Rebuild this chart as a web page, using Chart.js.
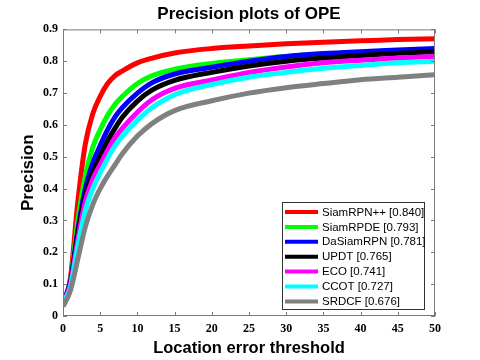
<!DOCTYPE html>
<html>
<head>
<meta charset="utf-8">
<script src="https://cdn.jsdelivr.net/npm/chart.js@4.4.1/dist/chart.umd.min.js"></script>
<style>
  html, body { margin: 0; padding: 0; background: #fff; }
</style>
</head>
<body>
<canvas id="precisionChart" width="480" height="360"></canvas>
<script>
// location error thresholds (px) where the curves were read
const thresholds = [0, 1, 2, 3, 4, 5, 6, 7, 8, 10, 12, 15, 20, 25, 30, 35, 40, 45, 50];

const trackers = ['SiamRPN++', 'SiamRPDE', 'DaSiamRPN', 'UPDT', 'ECO', 'CCOT', 'SRDCF'];
const scores = ['0.840', '0.793', '0.781', '0.765', '0.741', '0.727', '0.676'];

const siamRpnPP = [0.04, 0.12, 0.36, 0.54, 0.635, 0.69, 0.73, 0.755, 0.77, 0.795, 0.81, 0.826, 0.840, 0.848, 0.855, 0.860, 0.864, 0.868, 0.871];
const siamRpde  = [0.03, 0.11, 0.30, 0.44, 0.53, 0.585, 0.63, 0.665, 0.69, 0.73, 0.755, 0.775, 0.793, 0.805, 0.815, 0.822, 0.828, 0.832, 0.836];
const daSiamRpn = [0.04, 0.11, 0.27, 0.40, 0.48, 0.535, 0.585, 0.625, 0.655, 0.70, 0.733, 0.76, 0.781, 0.800, 0.815, 0.824, 0.830, 0.835, 0.840];
const updt      = [0.04, 0.10, 0.26, 0.38, 0.45, 0.50, 0.55, 0.59, 0.625, 0.675, 0.71, 0.74, 0.765, 0.785, 0.800, 0.810, 0.818, 0.825, 0.830];
const eco       = [0.04, 0.10, 0.24, 0.36, 0.43, 0.475, 0.52, 0.56, 0.59, 0.64, 0.68, 0.715, 0.741, 0.765, 0.782, 0.795, 0.803, 0.810, 0.815];
const ccot      = [0.04, 0.09, 0.22, 0.33, 0.40, 0.45, 0.495, 0.535, 0.565, 0.615, 0.655, 0.695, 0.727, 0.750, 0.765, 0.778, 0.787, 0.795, 0.800];
const srdcf     = [0.03, 0.08, 0.18, 0.28, 0.35, 0.40, 0.44, 0.475, 0.51, 0.565, 0.605, 0.645, 0.676, 0.700, 0.717, 0.730, 0.742, 0.750, 0.758];

const series = [siamRpnPP, siamRpde, daSiamRpn, updt, eco, ccot, srdcf];
const colors = ['#ff0000', '#00ff00', '#0000ff', '#000000', '#ff00ff', '#00ffff', '#808080'];

const xTicks = [0, 5, 10, 15, 20, 25, 30, 35, 40, 45, 50];
const yTicks = [0, 0.1, 0.2, 0.3, 0.4, 0.5, 0.6, 0.7, 0.8, 0.9];

// box around the plot, inward ticks on all four sides, and the legend box
const framePlugin = {
  id: 'frame',
  afterDatasetsDraw(chart) {
    const { ctx, chartArea: a, scales: { x, y } } = chart;
    ctx.save();
    ctx.strokeStyle = '#7a7a7a';
    ctx.lineWidth = 1;
    ctx.strokeRect(a.left + 0.5, a.top + 0.5, a.width - 1, a.height - 1);

    const tl = 4;
    ctx.beginPath();
    xTicks.forEach(v => {
      const px = Math.round(x.getPixelForValue(v)) + 0.5;
      ctx.moveTo(px, a.bottom); ctx.lineTo(px, a.bottom - tl);
      ctx.moveTo(px, a.top); ctx.lineTo(px, a.top + tl);
    });
    yTicks.forEach(v => {
      const py = Math.round(y.getPixelForValue(v)) + 0.5;
      ctx.moveTo(a.left, py); ctx.lineTo(a.left + tl, py);
      ctx.moveTo(a.right, py); ctx.lineTo(a.right - tl, py);
    });
    ctx.stroke();

    // legend
    const bw = 142, bh = 107;
    const bx = a.right - 11 - bw, by = a.bottom - 7 - bh;
    ctx.fillStyle = '#fff';
    ctx.fillRect(bx, by, bw, bh);
    ctx.strokeStyle = '#333';
    ctx.strokeRect(Math.round(bx) + 0.5, Math.round(by) + 0.5, bw, bh);
    ctx.font = '11.5px Arial, "Liberation Sans", sans-serif';
    ctx.textBaseline = 'middle';
    trackers.forEach((name, i) => {
      const ry = by + 10 + i * 14.9;
      ctx.strokeStyle = colors[i];
      ctx.lineWidth = 4;
      ctx.beginPath();
      ctx.moveTo(bx + 3, ry); ctx.lineTo(bx + 36, ry);
      ctx.stroke();
      ctx.fillStyle = '#000';
      ctx.fillText(name + ' [' + scores[i] + ']', bx + 40, ry + 0.5);
    });
    ctx.restore();
  }
};

const ctx = document.getElementById('precisionChart').getContext('2d');
new Chart(ctx, {
  type: 'line',
  data: {
    labels: thresholds,
    datasets: series.map((vals, i) => ({
      label: trackers[i] + ' [' + scores[i] + ']',
      data: vals.map((v, j) => ({ x: thresholds[j], y: v })),
      borderColor: colors[i],
      backgroundColor: colors[i],
      borderWidth: 5,
      pointRadius: 0,
      cubicInterpolationMode: 'monotone',
      order: -i
    }))
  },
  options: {
    responsive: false,
    animation: false,
    layout: { padding: { left: 0, right: 45, top: 0, bottom: 0 } },
    plugins: {
      legend: { display: false },
      tooltip: { enabled: false },
      title: {
        display: true,
        fullSize: false,
        text: 'Precision plots of OPE',
        color: '#000',
        font: { family: 'Arial, "Liberation Sans", sans-serif', size: 17, weight: 'bold' },
        padding: { top: 4, bottom: 5 }
      }
    },
    scales: {
      x: {
        type: 'linear',
        min: 0, max: 50,
        afterBuildTicks: s => { s.ticks = xTicks.map(v => ({ value: v })); },
        afterFit: s => { s.height = 44; },
        grid: { display: false, drawTicks: false },
        border: { display: false },
        ticks: {
          padding: 6,
          color: '#000',
          maxRotation: 0,
          font: { family: '"Liberation Serif", serif', size: 12, weight: 'bold' }
        },
        title: {
          display: true,
          text: 'Location error threshold',
          color: '#000',
          font: { family: 'Arial, "Liberation Sans", sans-serif', size: 16.5, weight: 'bold' },
          padding: { top: 0, bottom: 2 }
        }
      },
      y: {
        min: 0, max: 0.9,
        afterBuildTicks: s => { s.ticks = yTicks.map(v => ({ value: v })); },
        afterFit: s => { s.width = 63; },
        grid: { display: false, drawTicks: false },
        border: { display: false },
        ticks: {
          padding: 5,
          color: '#000',
          callback: v => (v === 0 ? '0' : v.toFixed(1)),
          font: { family: '"Liberation Serif", serif', size: 12, weight: 'bold' }
        },
        title: {
          display: true,
          text: 'Precision',
          color: '#000',
          font: { family: 'Arial, "Liberation Sans", sans-serif', size: 17, weight: 'bold' },
          padding: { top: 18, bottom: 0 }
        }
      }
    }
  },
  plugins: [framePlugin]
});
</script>
</body>
</html>
